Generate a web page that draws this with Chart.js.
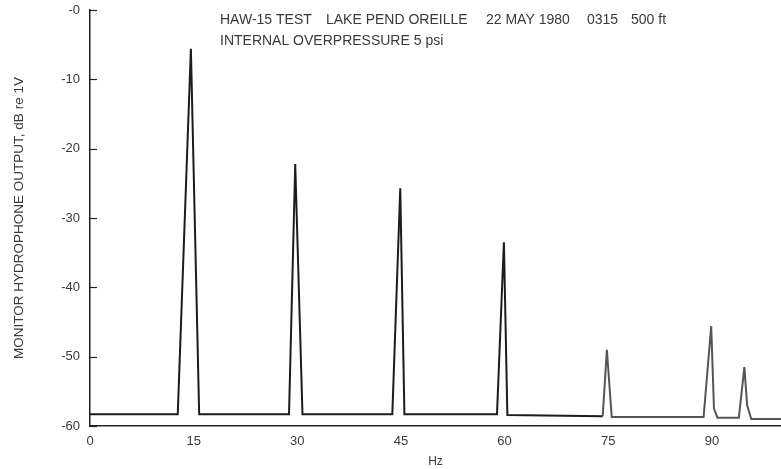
<!DOCTYPE html>
<html lang="en">
<head>
    <meta charset="UTF-8">
    <title>Hydrophone spectrum</title>
    <script src="https://cdn.jsdelivr.net/npm/chart.js"></script>
    <style>
        html, body {
            margin: 0;
            padding: 0;
            background: #fff;
        }
        #wrap {
            width: 781px;
            height: 469px;
            position: relative;
        }
    </style>
</head>
<body>
    <div id="wrap"><canvas id="spectrum"></canvas></div>

    <script>
        // frequency (Hz) and level (dB re 1V)
        const freqHz = [0, 12.7, 14.6, 15.8, 28.8, 29.7, 30.75, 43.75, 44.9, 45.5,
                        58.9, 59.9, 60.4, 74.2, 74.8, 75.5, 88.8, 89.9, 90.3, 90.8,
                        93.9, 94.7, 95.1, 95.7, 100];
        const levelDb = [-58.3, -58.3, -5.6, -58.3, -58.3, -22.2, -58.3, -58.3, -25.7, -58.3,
                         -58.3, -33.5, -58.4, -58.6, -49.0, -58.7, -58.7, -45.6, -57.5, -58.8,
                         -58.8, -51.5, -57.0, -59.0, -59.0];

        const xTicks = [0, 15, 30, 45, 60, 75, 90];
        const yTicks = [0, -10, -20, -30, -40, -50, -60];

        const titleLine1 = [
            ['HAW-15 TEST', 220],
            ['LAKE PEND OREILLE', 326],
            ['22 MAY 1980', 486],
            ['0315', 587],
            ['500 ft', 631]
        ];
        const titleLine2 = 'INTERNAL OVERPRESSURE 5 psi';

        const textColor = '#3a3a3a';
        const fontFamily = '"Liberation Sans", Arial, sans-serif';

        // header text + inward tick marks on the y axis
        const extras = {
            id: 'extras',
            afterDraw(chart) {
                const ctx = chart.ctx;
                const y = chart.scales.y;
                ctx.save();
                ctx.strokeStyle = '#222';
                ctx.lineWidth = 1.2;
                yTicks.forEach(v => {
                    const py = Math.round(y.getPixelForValue(v)) + 0.5;
                    ctx.beginPath();
                    ctx.moveTo(y.right, py);
                    ctx.lineTo(y.right + 7, py);
                    ctx.stroke();
                });

                ctx.fillStyle = textColor;
                ctx.font = '14px ' + fontFamily;
                ctx.textBaseline = 'middle';
                titleLine1.forEach(([t, x]) => ctx.fillText(t, x, 20));
                ctx.fillText(titleLine2, 220, 41);
                ctx.restore();
            }
        };

        const ctx = document.getElementById('spectrum').getContext('2d');
        new Chart(ctx, {
            type: 'line',
            data: {
                datasets: [{
                    data: freqHz.map((f, i) => ({ x: f, y: levelDb[i] })),
                    borderColor: '#1c1c1c',
                    borderWidth: 2,
                    pointRadius: 0,
                    tension: 0,
                    segment: {
                        borderColor: c => c.p0.parsed.x >= 70 ? '#555' : '#1c1c1c'
                    }
                }]
            },
            options: {
                responsive: true,
                maintainAspectRatio: false,
                animation: false,
                layout: { padding: { top: 10, right: 0, left: 0, bottom: 0 } },
                plugins: {
                    legend: { display: false },
                    tooltip: { enabled: false }
                },
                scales: {
                    x: {
                        type: 'linear',
                        min: 0,
                        max: 100,
                        afterBuildTicks: s => { s.ticks = xTicks.map(v => ({ value: v })); },
                        afterFit: s => { s.height = 43; },
                        grid: { display: false },
                        border: { display: true, color: '#222', width: 1.5 },
                        ticks: {
                            color: textColor,
                            padding: 0,
                            maxRotation: 0,
                            font: { family: fontFamily, size: 13 }
                        },
                        title: {
                            display: true,
                            text: 'Hz',
                            color: textColor,
                            padding: { top: 0, bottom: 0 },
                            font: { family: fontFamily, size: 12 }
                        }
                    },
                    y: {
                        min: -60,
                        max: 0,
                        afterBuildTicks: s => { s.ticks = yTicks.map(v => ({ value: v })); },
                        afterFit: s => { s.width = 90; },
                        grid: { display: false },
                        border: { display: true, color: '#222', width: 1.5 },
                        ticks: {
                            color: textColor,
                            padding: 2,
                            font: { family: fontFamily, size: 13 },
                            callback: v => v === 0 ? '-0' : String(v)
                        },
                        title: {
                            display: true,
                            text: 'MONITOR HYDROPHONE OUTPUT, dB re 1V',
                            color: textColor,
                            padding: { top: 11, bottom: 0 },
                            font: { family: fontFamily, size: 13.5 }
                        }
                    }
                }
            },
            plugins: [extras]
        });
    </script>
</body>
</html>
